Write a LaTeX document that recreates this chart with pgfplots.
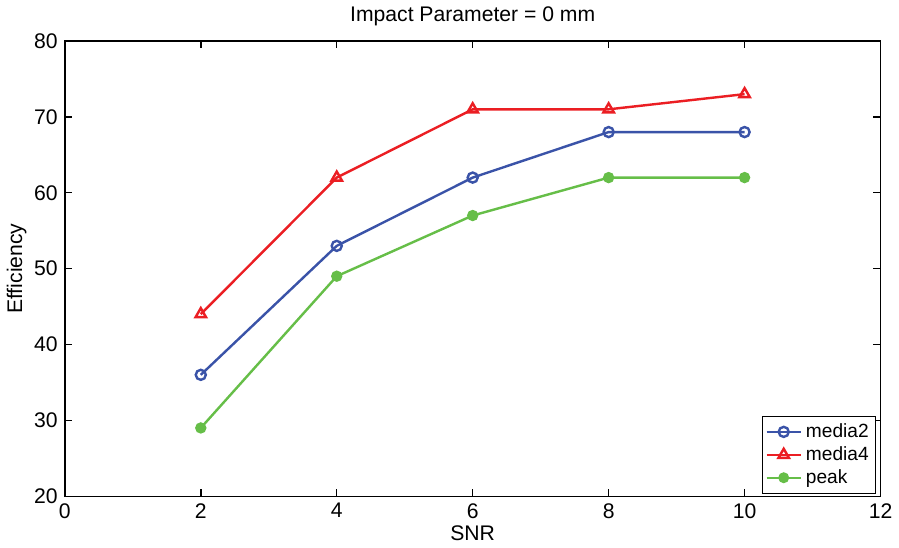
\documentclass[border=0pt]{standalone}
\usepackage{fontspec}
\setmainfont{Liberation Sans}
\usepackage{pgfplots}
\pgfplotsset{compat=1.18}
\definecolor{mblue}{RGB}{58,83,168}
\definecolor{mred}{RGB}{235,30,35}
\definecolor{mgreen}{RGB}{102,190,72}
\begin{document}
\begin{tikzpicture}
\begin{axis}[
  scale only axis,
  width=405pt, height=226pt,
  xmin=0, xmax=12, ymin=20, ymax=80,
  xtick={0,2,...,12}, ytick={20,30,...,80},
  tick align=inside, tick pos=both,
  major tick length=3.5pt,
  axis line style={line width=0.7pt},
  every tick/.style={black, line width=0.7pt},
  font=\fontsize{10.5}{12}\selectfont,
  /pgf/number format/assume math mode=true,
  title={Impact Parameter = 0 mm},
  title style={yshift=-2pt},
  xlabel={SNR}, ylabel={Efficiency},
  xlabel style={yshift=3pt},
  ylabel style={yshift=-3pt},
  legend cell align=left,
  legend style={draw=black, line width=0.7pt, font=\fontsize{9.5}{10}\selectfont, inner sep=1.5pt, row sep=-1pt, at={(0.995,0.005)}, anchor=south east},
  legend image post style={line width=1pt},
]
\addplot[mblue, line width=1.2pt, mark=o, mark size=2.5pt, mark options={line width=1.2pt}]
  coordinates {(2,36) (4,53) (6,62) (8,68) (10,68)};
\addlegendentry{media2}
\addplot[mred, line width=1.2pt, mark=triangle, mark size=3pt, mark options={line width=1.2pt}]
  coordinates {(2,44) (4,62) (6,71) (8,71) (10,73)};
\addlegendentry{media4}
\addplot[mgreen, line width=1.2pt, mark=*, mark size=2.2pt]
  coordinates {(2,29) (4,49) (6,57) (8,62) (10,62)};
\addlegendentry{peak}
\end{axis}
\end{tikzpicture}
\end{document}
